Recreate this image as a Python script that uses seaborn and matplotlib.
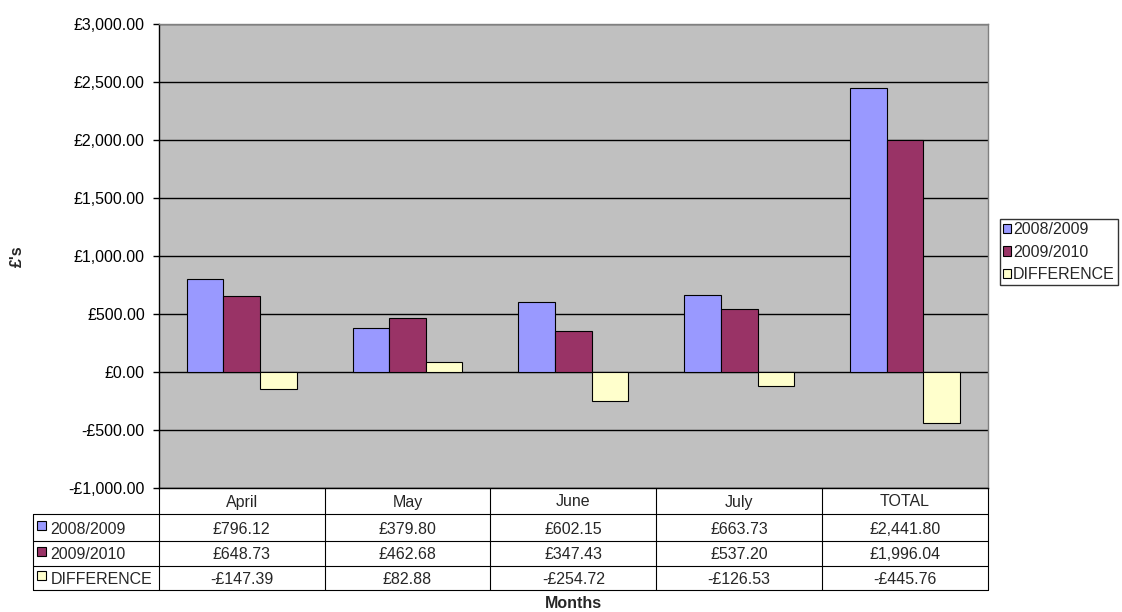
import numpy as np
import pandas as pd
import matplotlib.pyplot as plt
import seaborn as sns
from matplotlib.patches import Patch, Rectangle
from matplotlib.lines import Line2D
from matplotlib import transforms

months = ['April', 'May', 'June', 'July', 'TOTAL']
series = ['2008/2009', '2009/2010', 'DIFFERENCE']
y2008 = [796.12, 379.80, 602.15, 663.73, 2441.80]
y2009 = [648.73, 462.68, 347.43, 537.20, 1996.04]
diff = [-147.39, 82.88, -254.72, -126.53, -445.76]
colours = ['#9999FF', '#993366', '#FFFFCC']
yticks = np.arange(-1000, 3001, 500)

W, H = 1122, 612
FS = 11.5


def money(v, pos=None):
    s = '£{:,.2f}'.format(abs(v))
    return '-' + s if v < 0 else s


def fx(px):
    return px / W


def fy(py):
    return 1 - py / H


sns.set_theme(style='ticks')
plt.rcParams['font.family'] = ['Liberation Sans', 'DejaVu Sans']

df = pd.DataFrame({
    'Month': months * 3,
    'Series': np.repeat(series, len(months)),
    'Value': y2008 + y2009 + diff,
})

fig = plt.figure(figsize=(W / 100, H / 100), dpi=100)
ax = fig.add_axes([fx(158.7), fy(487.7), fx(988) - fx(158.7), fy(23.7) - fy(487.7)])
ax.set_facecolor('#C0C0C0')
ax.set_axisbelow(True)

sns.barplot(data=df, x='Month', y='Value', hue='Series', order=months,
            hue_order=series, palette=colours, saturation=1, width=0.663,
            edgecolor='black', linewidth=0.8, legend=False, ax=ax)

ax.grid(axis='y', color='black', linewidth=1)
ax.set_ylim(-1000, 3000)
ax.set_yticks(yticks)
ax.yaxis.set_major_formatter(money)
ax.set_xlim(-0.5, len(months) - 0.5)
ax.tick_params(axis='x', length=0, labelbottom=False)
ax.tick_params(axis='y', direction='out', length=4, width=1, color='black',
               labelsize=FS, pad=6, labelcolor='black')
ax.set_xlabel('')
ax.set_ylabel('')
for s in ['left', 'bottom']:
    ax.spines[s].set_color('black')
    ax.spines[s].set_linewidth(1)
for s in ['top', 'right']:
    ax.spines[s].set_color('#808080')
    ax.spines[s].set_linewidth(1)

# data table under the chart
trans = transforms.blended_transform_factory(ax.transData, fig.transFigure)
rows = [487.7, 514.3, 540.7, 565.7, 590]
lw = 0.8
left_px = 33.3
for r in rows[1:]:
    fig.add_artist(Line2D([fx(left_px), fx(988)], [fy(r), fy(r)],
                          transform=fig.transFigure, color='black', lw=lw))
fig.add_artist(Line2D([fx(left_px), fx(left_px)], [fy(rows[1]), fy(rows[-1])],
                      transform=fig.transFigure, color='black', lw=lw))
for i in range(len(months) + 1):
    fig.add_artist(Line2D([i - 0.5, i - 0.5], [fy(rows[0]), fy(rows[-1])],
                          transform=trans, color='black', lw=lw))

for i, m in enumerate(months):
    fig.text(i, fy((rows[0] + rows[1]) / 2 + 1), m, transform=trans,
             ha='center', va='center', fontsize=FS)

table_vals = [y2008, y2009, diff]
for k, (name, vals, col) in enumerate(zip(series, table_vals, colours)):
    yc = (rows[k + 1] + rows[k + 2]) / 2 + 1.5
    fig.add_artist(Rectangle((fx(37), fy(yc + 1)), fx(9), fy(0) - fy(9),
                             transform=fig.transFigure, facecolor=col,
                             edgecolor='black', lw=0.8))
    fig.text(fx(50.5), fy(yc), name, ha='left', va='center', fontsize=FS)
    for i, v in enumerate(vals):
        fig.text(i, fy(yc), money(v), transform=trans, ha='center',
                 va='center', fontsize=FS)

# legend
handles = [Patch(facecolor=c, edgecolor='black', linewidth=0.8) for c in colours]
leg = fig.legend(handles, series, loc='upper left',
                 bbox_to_anchor=(fx(1000), fy(219.3)), frameon=True,
                 fancybox=False, fontsize=FS, handlelength=0.5,
                 handleheight=0.5, handletextpad=0.1, labelspacing=0.45,
                 borderpad=0.2, borderaxespad=0)
leg.get_frame().set_edgecolor('black')
leg.get_frame().set_linewidth(1)

fig.text(fx(17), fy(255.7), "£'s", rotation=90, ha='center', va='center',
         fontsize=FS, fontweight='bold')
fig.text(fx((158.7 + 988) / 2), fy(603), 'Months', ha='center', va='center',
         fontsize=FS, fontweight='bold')

fig.savefig('out.png', dpi=100)
